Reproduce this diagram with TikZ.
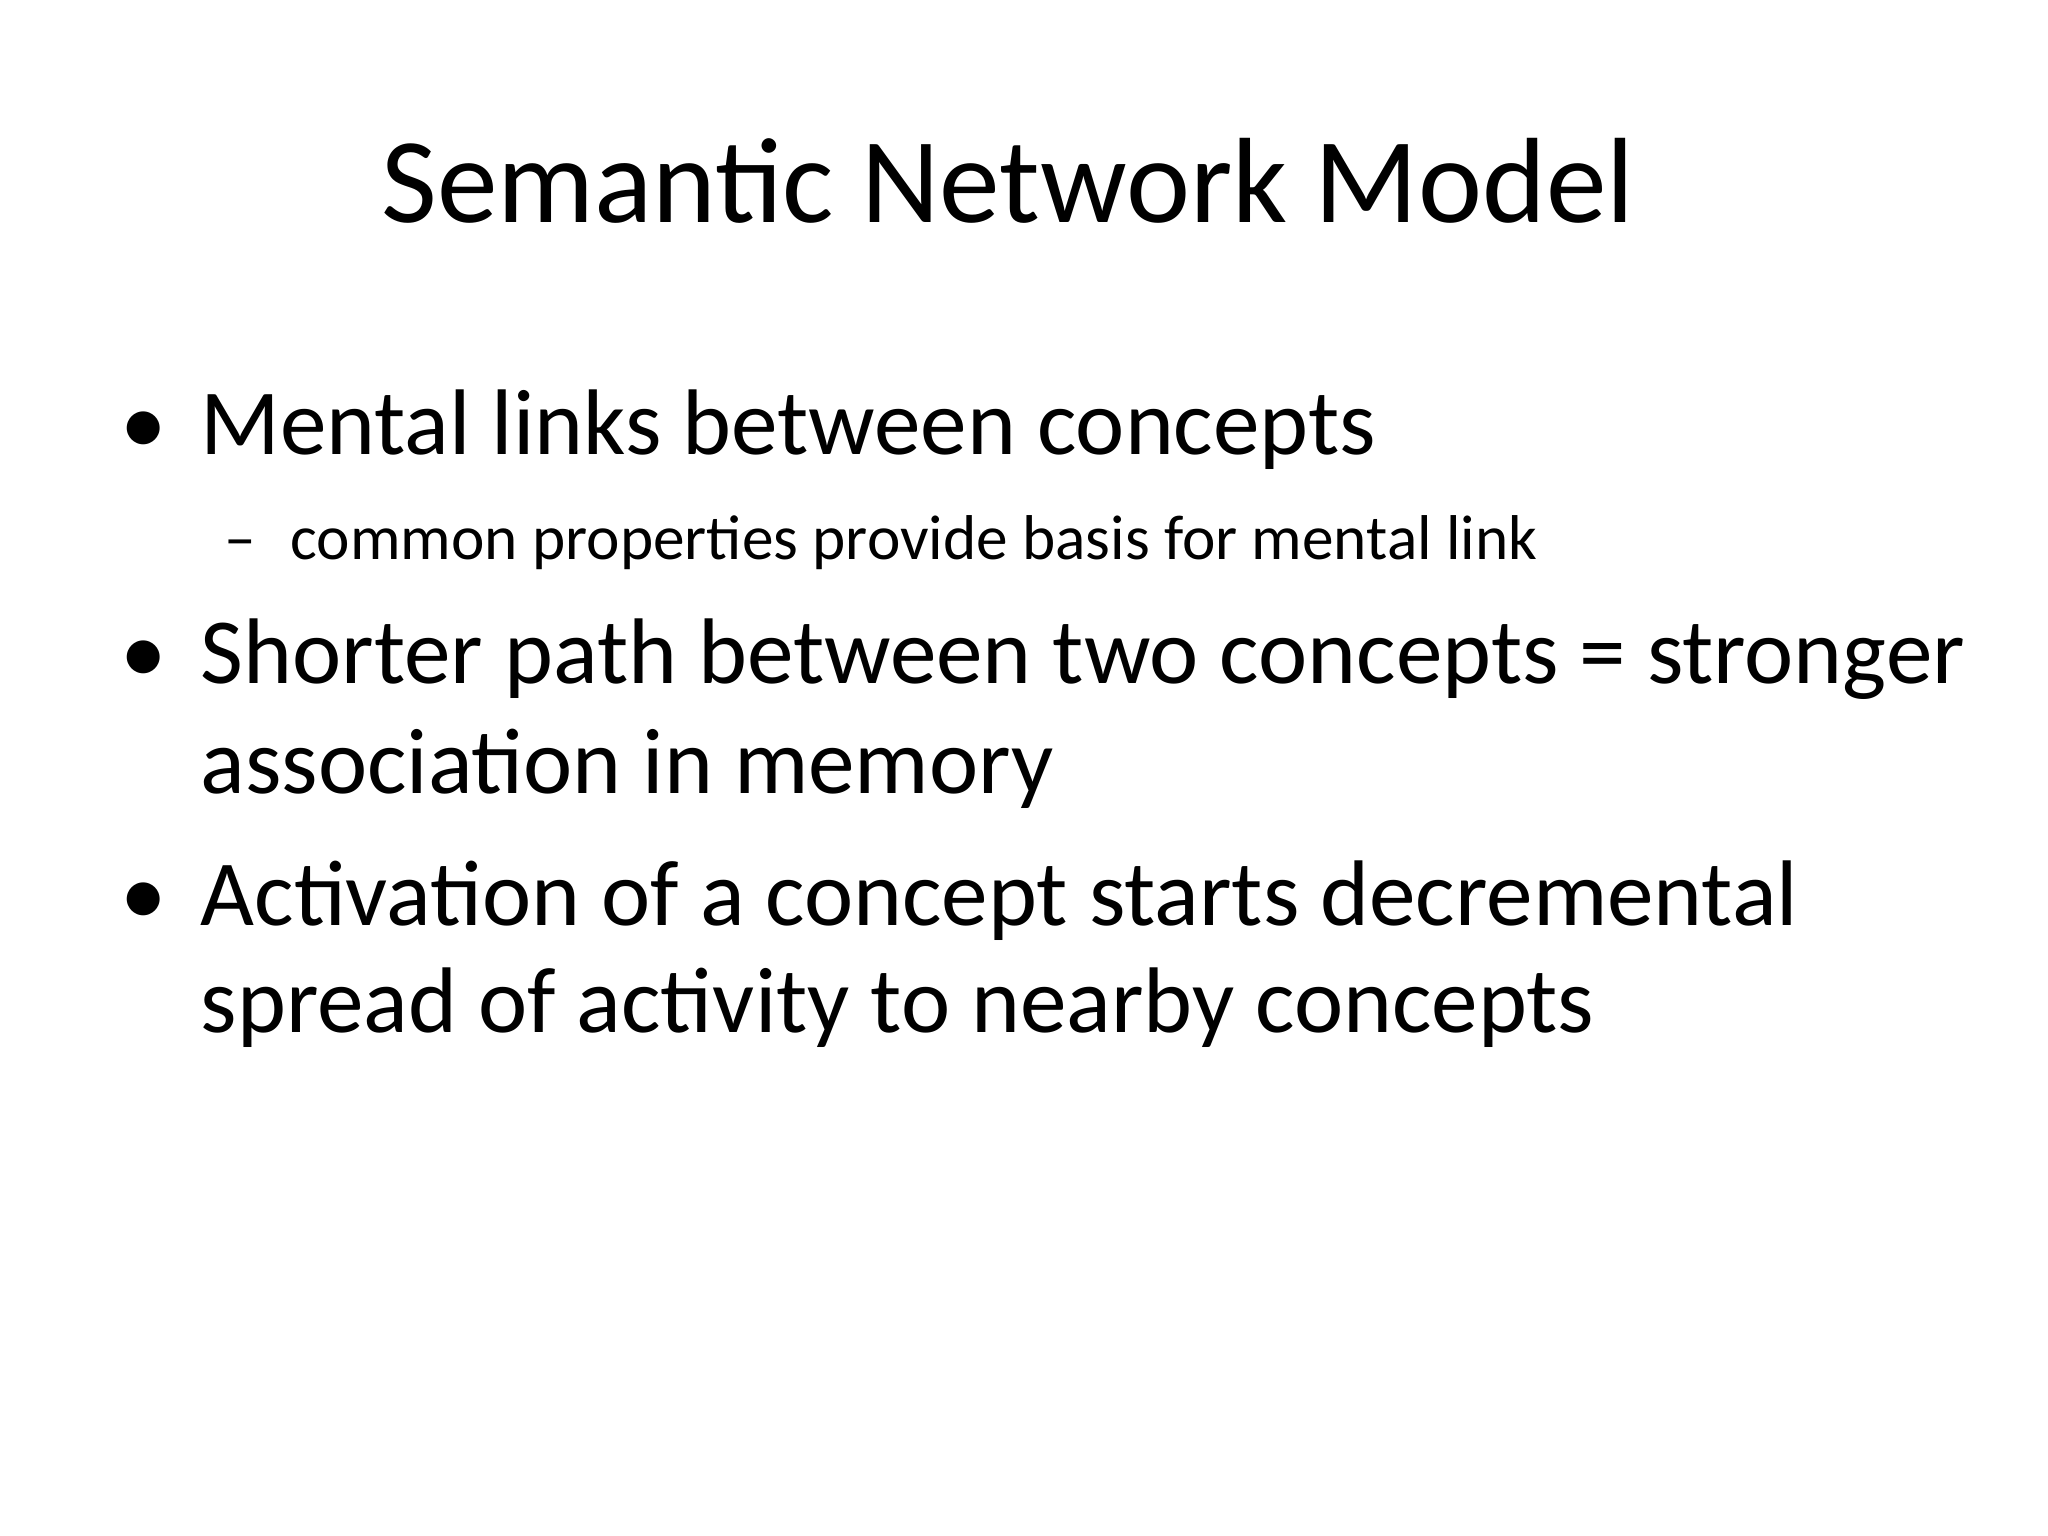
\documentclass[tikz,border=0pt]{standalone}
\usepackage{fontspec}
\setmainfont{Carlito}
\begin{document}
\begin{tikzpicture}[x=0.01cm,y=-0.01cm,
  title/.style={font=\fontsize{34.5}{40}\selectfont,inner sep=0pt},
  big/.style={font=\fontsize{26.5}{31}\selectfont,inner sep=0pt,anchor=base west},
  small/.style={font=\fontsize{18}{22}\selectfont,inner sep=0pt,anchor=base west}]
\useasboundingbox (0,0) rectangle (2048,1536);
\node[title,anchor=base] (t) at (1008,222) {Semantic Network Model};
\node[big] (b1) at (120,454) {•};
\node[big] (l1) at (200,454) {Mental links between concepts};
\node[small] (d1) at (224,559) {–};
\node[small] (s1) at (290,559) {common properties provide basis for mental link};
\node[big] (b2) at (120,683) {•};
\node[big] (l2) at (200,683) {Shorter path between two concepts = stronger};
\node[big] (l2b) at (200,793) {association in memory};
\node[big] (b3) at (120,925) {•};
\node[big] (l3) at (200,925) {Activation of a concept starts decremental};
\node[big] (l3b) at (200,1032) {spread of activity to nearby concepts};
\end{tikzpicture}
\end{document}
